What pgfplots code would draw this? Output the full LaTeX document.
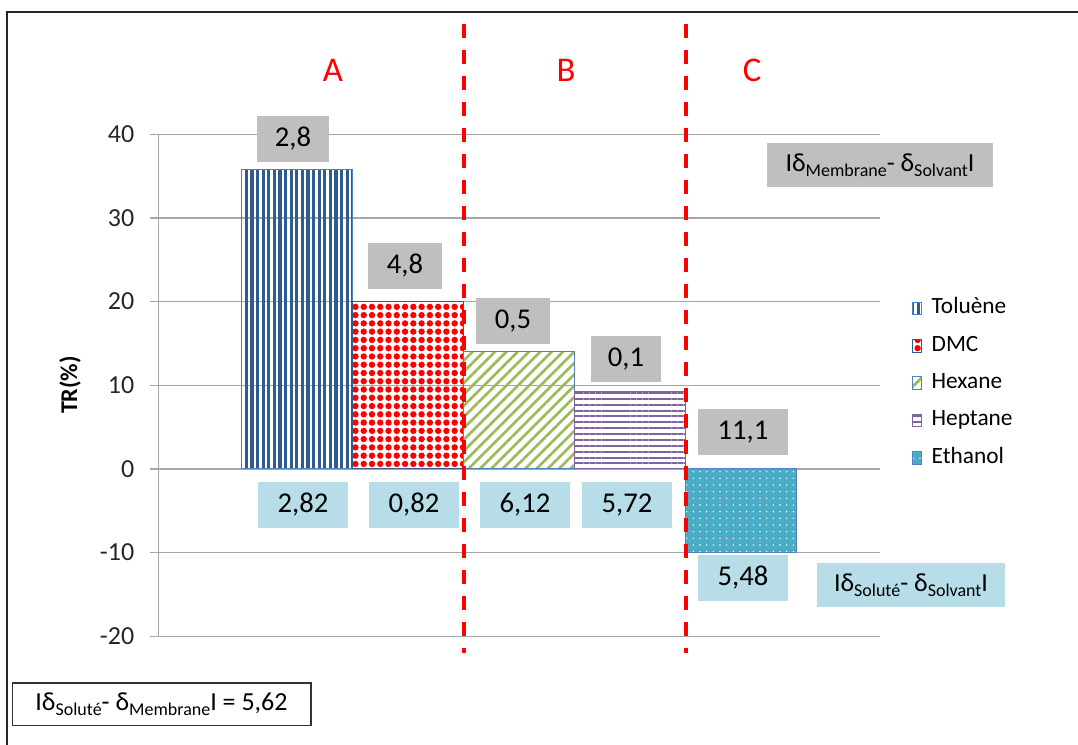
\documentclass[border=0pt]{standalone}
\usepackage{pgfplots}
\pgfplotsset{compat=1.18}
\usepackage{fontspec}
\setmainfont{Carlito}
\usetikzlibrary{patterns.meta}

\definecolor{grisbox}{HTML}{BFBFBF}
\definecolor{bleubox}{HTML}{B7DDE8}
\definecolor{toluene}{HTML}{2E5B91}
\definecolor{bordbleu}{HTML}{4F81BD}
\definecolor{hexane}{HTML}{9BBB59}
\definecolor{heptane}{HTML}{8064A2}
\definecolor{ethanol}{HTML}{4BACC6}
\definecolor{gridgris}{HTML}{A6A6A6}

\newcommand{\fs}[1]{\fontsize{#1}{#1}\selectfont}
\newcommand{\sub}[1]{\raisebox{-4pt}{\fs{13.5pt}#1}}

\pgfplotsset{
  leg/.style={legend image code/.code={\draw[##1,/tikz/.cd] (0pt,-4.75pt) rectangle (7pt,4.75pt);}},
}

\begin{document}
\begin{tikzpicture}[x=0.75pt,y=0.75pt,
  gbox/.style={fill=grisbox, inner sep=0pt, minimum height=35pt, font=\fs{21.5pt}},
  bbox/.style={fill=bleubox, inner sep=0pt, minimum height=34pt, minimum width=67.5pt, font=\fs{21.5pt}}]
\useasboundingbox (0,0) rectangle (1078,745);

% cadre
\draw[line width=1.5pt, black!85] (7,0) -- (7,733) -- (1078,733);

\begin{axis}[
  at={(143,130)}, anchor=south west,
  scale only axis, width=540.75pt, height=376.5pt,
  xmin=-0.25, xmax=6.25, ymin=-20, ymax=40,
  ytick={-20,-10,0,10,20,30,40},
  xtick=\empty,
  axis lines*=left,
  x axis line style={draw=none},
  y axis line style={draw=gridgris, line width=1pt, -},
  ymajorgrids,
  grid style={draw=gridgris, line width=1pt},
  tick align=outside,
  major tick length=6.75pt,
  ytick style={draw=gridgris, line width=1pt},
  yticklabel style={font=\fs{19.5pt}, text=black!85, xshift=-8pt},
  /pgf/number format/assume math mode=true,
  clip=false,
  legend style={at={(1.039,0.677)}, anchor=north west, draw=none, fill=none,
    font=\fs{17.5pt}, row sep=14pt,
    nodes={inner sep=0pt, text height=11pt, text depth=3pt},
    /tikz/every odd column/.append style={column sep=7pt}},
  legend cell align=left,
]
\addplot[ybar, leg, bar width=1, bar shift=0, draw=bordbleu, line width=0.75pt,
  pattern={Lines[angle=90,distance=4.2pt,line width=2.3pt]}, pattern color=toluene]
  coordinates {(1,35.8)};
\addlegendentry{Toluène}
\addplot[ybar, leg, bar width=1, bar shift=0, draw=toluene, line width=0.75pt,
  pattern={Dots[radius=2.4pt,distance=6.2pt]}, pattern color=red]
  coordinates {(2,20)};
\addlegendentry{DMC}
\addplot[ybar, leg, bar width=1, bar shift=0, draw=bordbleu, line width=0.75pt,
  pattern={Lines[angle=45,distance=6pt,line width=2pt]}, pattern color=hexane]
  coordinates {(3,14)};
\addlegendentry{Hexane}
\addplot[ybar, leg, bar width=1, bar shift=0, draw=heptane, line width=0.75pt,
  pattern={Lines[angle=0,distance=4.4pt,line width=1.5pt]}, pattern color=heptane]
  coordinates {(4,9.2)};
\addlegendentry{Heptane}
\addplot[ybar, leg, bar width=1, bar shift=0, draw=bordbleu, line width=0.75pt,
  fill=ethanol, postaction={pattern={Dots[radius=0.6pt,distance=5pt]}, pattern color=white}]
  coordinates {(5,-10)};
\addlegendentry{Ethanol}

\draw[red, line width=3pt, dash pattern=on 10.5pt off 9pt] (axis cs:2.5,53.2) -- (axis cs:2.5,-22);
\draw[red, line width=3pt, dash pattern=on 10.5pt off 9pt] (axis cs:4.5,53.2) -- (axis cs:4.5,-22);
\end{axis}

% lettres
\node[text=red, font=\fs{26pt}] at (333,675) {A};
\node[text=red, font=\fs{26pt}] at (566,675) {B};
\node[text=red, font=\fs{26pt}] at (752,675) {C};

% titre axe y
\node[rotate=90, font=\bfseries\fs{18pt}] at (70,360) {TR(\%)};

% etiquettes grises
\node[gbox, minimum width=54pt] at (293,606) {2,8};
\node[gbox, minimum width=55pt] at (405,479) {4,8};
\node[gbox, minimum width=55pt] at (513,424) {0,5};
\node[gbox, minimum width=53pt] at (626,386) {0,1};
\node[gbox, minimum width=67.5pt] at (743,313) {11,1};

% etiquettes bleues
\node[bbox] at (303,240) {2,82};
\node[bbox] at (414,240) {0,82};
\node[bbox] at (525,240) {6,12};
\node[bbox] at (627,240) {5,72};
\node[bbox] at (743,167) {5,48};

% annotations
\node[fill=grisbox, inner sep=0pt, minimum width=169.5pt, minimum height=33pt, font=\fs{19.5pt}]
  at (880,580) {Iδ\sub{Membrane}- δ\sub{Solvant}I};
\node[fill=bleubox, inner sep=0pt, minimum width=141pt, minimum height=33pt, font=\fs{19.5pt}]
  at (911,160) {Iδ\sub{Soluté}- δ\sub{Solvant}I};
\node[draw=black!80, line width=1pt, fill=white, inner sep=0pt, minimum width=224pt, minimum height=32pt, font=\fs{19.5pt}]
  at (161.5,40.5) {Iδ\sub{Soluté}- δ\sub{Membrane}I = 5,62};
\end{tikzpicture}
\end{document}
